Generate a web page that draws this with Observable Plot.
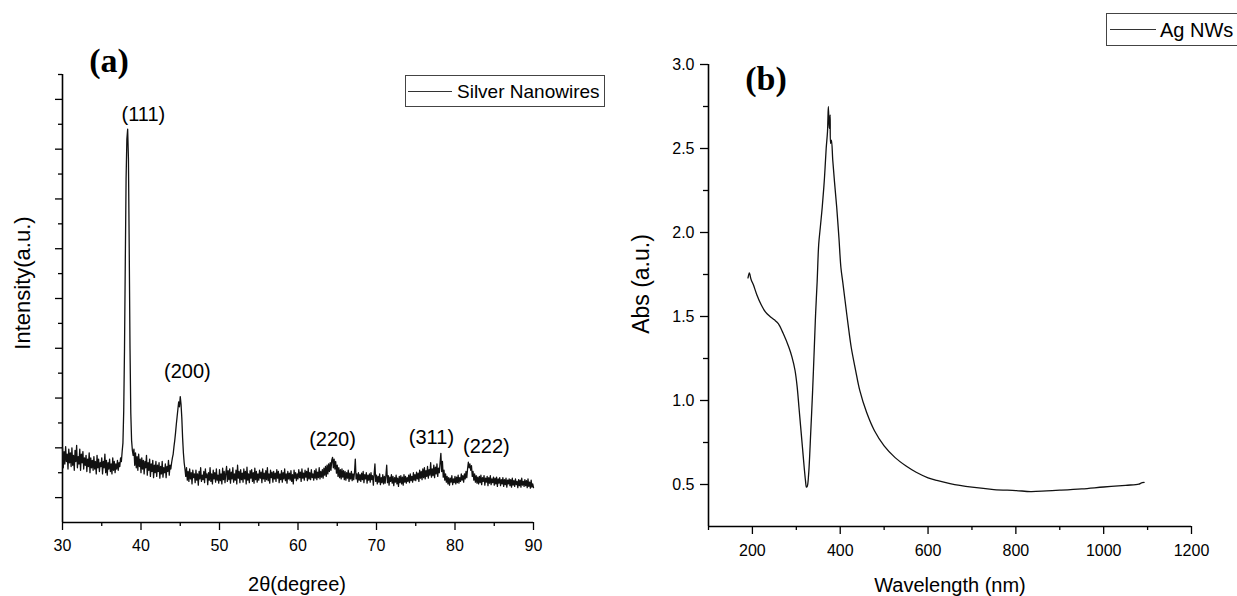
<!DOCTYPE html>
<html>
<head>
<meta charset="utf-8">
<script src="https://cdn.jsdelivr.net/npm/d3@7"></script>
<script src="https://cdn.jsdelivr.net/npm/@observablehq/plot@0.6"></script>
<style>
  html, body { margin: 0; padding: 0; background: #fff; }
  #wrap { position: relative; width: 1237px; height: 596px; overflow: hidden; background: #fff;
          font-family: "Liberation Sans", Arial, sans-serif; color: #000; }
  .abs { position: absolute; line-height: 1; white-space: nowrap; }
  .c { transform: translate(-50%, -50%); }
  .rot { transform: translate(-50%, -50%) rotate(-90deg); }
  .panel { font-family: "Liberation Serif", "Times New Roman", serif; font-weight: bold; font-size: 34px; }
  .legend { position: absolute; border: 1px solid #444; background: #fff; box-sizing: border-box; }
  .legend .ln { position: absolute; height: 0; border-top: 1.3px solid #333; }
  .legend .tx { position: absolute; line-height: 1; white-space: nowrap; }
</style>
</head>
<body>
<div id="wrap">
  <div id="pa" class="abs" style="left:0;top:0"></div>
  <div id="pb" class="abs" style="left:610px;top:0"></div>

  <div class="abs c panel" style="left:109px;top:61px">(a)</div>
  <div class="abs c panel" style="left:766px;top:79px">(b)</div>

  <div class="abs rot" style="left:23px;top:283px;font-size:22px">Intensity(a.u.)</div>
  <div class="abs c" style="left:297px;top:584px;font-size:20px">2θ(degree)</div>

  <div class="abs rot" style="left:641px;top:284px;font-size:23px">Abs (a.u.)</div>
  <div class="abs c" style="left:950px;top:585px;font-size:20px">Wavelength (nm)</div>

  <div class="legend" style="left:405px;top:75px;width:200px;height:32px">
    <div class="ln" style="left:2px;top:15px;width:44px"></div>
    <div class="tx" style="left:51px;top:6px;font-size:19px">Silver Nanowires</div>
  </div>
  <div class="legend" style="left:1106px;top:13px;width:140px;height:33px">
    <div class="ln" style="left:3px;top:15px;width:46px"></div>
    <div class="tx" style="left:53px;top:6px;font-size:20px">Ag NWs</div>
  </div>
</div>
<script>
// ---------- Panel (a): XRD pattern, sampled every 0.1 degree from 30 to 90 ----------
const thetaStart = 30;
const thetaStep = 0.1;
const xrdIntensity = [
  3.00, 2.20, 2.85, 2.35, 3.05, 2.45, 2.75, 2.15, 2.95, 2.40,
  2.80, 2.25, 3.00, 2.30, 2.70, 2.10, 2.90, 2.45, 3.10, 2.20,
  2.65, 2.35, 2.95, 2.10, 2.75, 2.40, 2.85, 2.15, 2.60, 2.30,
  2.70, 2.05, 2.55, 2.25, 2.80, 2.00, 2.60, 2.20, 2.50, 2.10,
  2.65, 2.15, 2.45, 1.95, 2.70, 2.20, 2.55, 2.05, 2.40, 2.25,
  2.60, 1.95, 2.45, 2.20, 2.75, 2.00, 2.50, 1.90, 2.40, 2.15,
  2.55, 2.05, 2.35, 1.95, 2.60, 2.10, 2.45, 2.00, 2.35, 2.15,
  2.50, 2.10, 2.40, 2.25, 2.60, 2.45, 2.85, 3.20, 4.50, 7.00,
  10.5, 13.8, 15.4, 15.8, 14.6, 11.0, 7.0, 4.4, 3.3, 2.9,
  2.70, 2.95, 2.30, 2.80, 2.20, 2.65, 2.10, 2.75, 2.25, 2.55,
  2.00, 2.60, 2.15, 2.50, 1.95, 2.45, 2.20, 2.70, 1.90, 2.40,
  2.10, 2.55, 1.85, 2.35, 2.05, 2.50, 1.80, 2.30, 2.00, 2.45,
  1.85, 2.30, 2.05, 2.40, 1.78, 2.25, 1.95, 2.45, 1.82, 2.20,
  2.00, 2.35, 1.80, 2.25, 2.05, 2.50, 1.90, 2.30, 2.15, 2.40,
  2.60, 2.75, 3.05, 3.30, 3.60, 3.95, 4.25, 4.55, 4.85, 4.65,
  5.06, 4.75, 4.20, 3.40, 2.80, 2.40, 2.15, 1.85, 2.20, 1.70,
  2.05, 1.65, 2.15, 1.75, 2.00, 1.55, 2.10, 1.80, 1.95, 1.60,
  2.10, 1.70, 1.95, 1.50, 2.05, 1.75, 2.20, 1.65, 1.90, 1.72,
  2.05, 1.60, 2.15, 1.80, 1.95, 1.52, 2.00, 1.70, 2.20, 1.65,
  1.95, 1.55, 2.10, 1.75, 2.00, 1.62, 2.15, 1.70, 1.90, 1.58,
  2.12, 1.68, 1.95, 1.55, 2.18, 1.72, 2.05, 1.60, 1.98, 2.25,
  1.65, 2.08, 1.72, 2.15, 1.58, 2.02, 1.75, 2.20, 1.62, 1.95,
  1.70, 2.10, 1.55, 2.30, 1.78, 2.05, 1.60, 2.12, 1.72, 1.98,
  1.62, 2.15, 1.75, 2.05, 1.55, 2.22, 1.70, 1.95, 1.60, 2.08,
  1.78, 2.12, 1.65, 2.00, 1.58, 2.18, 1.72, 2.05, 1.62, 1.95,
  1.70, 2.10, 1.78, 2.02, 1.60, 2.15, 1.75, 1.98, 1.65, 2.08,
  1.72, 2.20, 1.68, 1.95, 1.58, 2.10, 1.80, 2.02, 1.62, 2.05,
  1.75, 1.98, 1.65, 2.12, 1.78, 2.05, 1.60, 1.95, 1.72, 2.08,
  1.62, 2.00, 1.75, 2.15, 1.68, 1.95, 1.58, 2.05, 1.75, 1.98,
  1.70, 2.08, 1.65, 1.92, 1.55, 2.10, 1.78, 2.00, 1.68, 1.95,
  1.75, 2.12, 1.80, 2.02, 1.65, 2.15, 1.78, 1.98, 1.70, 2.10,
  1.82, 2.05, 1.68, 2.18, 1.75, 2.00, 1.72, 2.12, 1.80, 1.95,
  1.70, 2.08, 1.78, 2.15, 1.72, 2.02, 1.80, 2.20, 1.75, 2.05,
  1.82, 2.12, 1.78, 2.18, 1.90, 2.25, 1.85, 2.30, 1.95, 2.35,
  2.05, 2.40, 2.10, 2.50, 2.62, 2.20, 2.55, 2.15, 2.45, 1.98,
  2.30, 1.85, 2.20, 1.80, 2.12, 1.75, 2.15, 1.82, 2.08, 1.72,
  2.05, 1.70, 2.00, 1.78, 2.10, 1.65, 1.98, 1.75, 2.05, 1.68,
  1.95, 1.72, 2.02, 2.55, 1.75, 1.95, 1.62, 2.00, 1.70, 1.92,
  1.65, 1.98, 1.72, 2.05, 1.60, 1.92, 1.75, 2.00, 1.58, 1.90,
  1.70, 1.95, 1.62, 2.00, 1.72, 1.88, 1.50, 1.95, 2.35, 1.65,
  1.90, 1.55, 1.85, 1.62, 1.95, 1.52, 1.80, 1.60, 1.92, 1.55,
  1.85, 1.58, 1.90, 2.30, 1.60, 1.88, 1.50, 1.82, 1.65, 1.92,
  1.58, 1.85, 1.48, 1.80, 1.62, 1.90, 1.55, 1.78, 1.45, 1.85,
  1.60, 1.88, 1.55, 1.82, 1.50, 1.92, 1.62, 1.85, 1.58, 1.80,
  1.65, 1.90, 1.60, 1.95, 1.68, 1.85, 1.62, 2.00, 1.70, 1.92,
  1.68, 2.02, 1.75, 1.98, 1.65, 2.10, 1.78, 2.05, 1.72, 2.15,
  1.80, 2.20, 1.75, 2.08, 1.85, 2.25, 1.78, 2.12, 1.90, 2.40,
  1.82, 2.15, 1.88, 2.30, 1.80, 2.22, 1.95, 2.35, 1.85, 2.18,
  2.00, 2.40, 2.78, 2.05, 2.45, 1.82, 2.10, 1.70, 1.95, 1.62,
  1.85, 1.55, 1.80, 1.50, 1.78, 1.62, 1.88, 1.52, 1.75, 1.60,
  1.85, 1.55, 1.82, 1.60, 1.90, 1.58, 1.80, 1.65, 1.95, 1.70,
  1.88, 1.62, 1.95, 1.75, 2.05, 1.80, 2.15, 2.42, 2.20, 2.35,
  2.10, 2.28, 1.85, 2.05, 1.70, 1.95, 1.62, 1.88, 1.58, 1.82,
  1.55, 1.85, 1.60, 1.90, 1.52, 1.80, 1.65, 1.88, 1.50, 1.78,
  1.62, 1.85, 1.48, 1.80, 1.58, 1.88, 1.52, 1.75, 1.60, 1.82,
  1.50, 1.78, 1.55, 1.82, 1.45, 1.75, 1.58, 1.80, 1.48, 1.72,
  1.55, 1.80, 1.45, 1.72, 1.52, 1.78, 1.42, 1.70, 1.55, 1.75,
  1.48, 1.72, 1.42, 1.78, 1.50, 1.68, 1.45, 1.75, 1.52, 1.65,
  1.40, 1.72, 1.48, 1.70, 1.42, 1.78, 1.50, 1.65, 1.45, 1.72,
  1.48, 1.68, 1.40, 1.75, 1.45, 1.62, 1.38, 1.70, 1.42, 1.55,
  1.40
];
const peakLabels = ["(111)", "(200)", "(220)", "(311)", "(222)"];
const peakLabelTheta = [40.3, 45.9, 64.4, 77.0, 84.0];
const peakLabelLevel = [16.4, 6.06, 3.33, 3.41, 3.05];
const xMajorA = [30, 40, 50, 60, 70, 80, 90];
const xMinorA = [35, 45, 55, 65, 75, 85];
const yMajorA = [1, 3, 5, 7, 9, 11, 13, 15, 17];
const yMinorA = [2, 4, 6, 8, 10, 12, 14, 16, 18];

// ---------- Panel (b): UV-Vis absorbance ----------
const uvWavelength = [190, 193, 197, 202, 210, 220, 230, 240, 250, 259, 270, 283, 290, 297, 302, 306, 310, 314, 318, 321, 323, 325, 328, 333, 337, 341, 344, 347.5, 351, 355, 359, 364, 368, 371, 373, 375, 377, 378, 380, 383, 387, 392, 397, 401.6, 406, 411, 418, 425, 435, 444.5, 460, 478, 500, 525, 550, 573, 600, 620, 650, 700, 750, 800, 834, 870, 900, 950, 1000, 1050, 1080, 1085, 1092];
const uvAbs = [1.73, 1.76, 1.72, 1.69, 1.63, 1.57, 1.526, 1.50, 1.48, 1.458, 1.40, 1.317, 1.26, 1.18, 1.08, 0.96, 0.84, 0.72, 0.60, 0.52, 0.484, 0.49, 0.56, 0.82, 1.05, 1.317, 1.52, 1.71, 1.93, 2.04, 2.15, 2.32, 2.50, 2.60, 2.75, 2.62, 2.70, 2.53, 2.55, 2.43, 2.30, 2.15, 1.97, 1.79, 1.70, 1.595, 1.45, 1.317, 1.18, 1.06, 0.93, 0.82, 0.73, 0.66, 0.61, 0.573, 0.54, 0.524, 0.505, 0.484, 0.47, 0.464, 0.458, 0.462, 0.466, 0.474, 0.485, 0.495, 0.502, 0.508, 0.512];
const xMajorB = [200, 400, 600, 800, 1000, 1200];
const xMinorB = [100, 300, 500, 700, 900, 1100];
const yMajorB = [0.5, 1.0, 1.5, 2.0, 2.5, 3.0];
const yMinorB = [0.75, 1.25, 1.75, 2.25, 2.75];

const xrd = xrdIntensity.map((v, i) => ({theta: +(thetaStart + i * thetaStep).toFixed(1), intensity: v}));
const peaks = peakLabels.map((t, i) => ({label: t, theta: peakLabelTheta[i], level: peakLabelLevel[i]}));
const uv = uvWavelength.map((w, i) => ({wl: w, abs: uvAbs[i]}));

const baseStyle = {fontFamily: '"Liberation Sans", Arial, sans-serif', fontSize: "16px", color: "#000", background: "transparent", overflow: "visible"};

const plotA = Plot.plot({
  width: 620, height: 596,
  marginLeft: 62, marginRight: 87, marginTop: 74, marginBottom: 74,
  style: baseStyle,
  x: {domain: [30, 90]},
  y: {domain: [0, 18]},
  marks: [
    Plot.axisX({ticks: xMajorA, tickSize: 8, tickPadding: 9, tickFormat: d => String(d), label: null, strokeWidth: 1.3, fontSize: 16}),
    Plot.axisX({ticks: xMinorA, tickSize: 4, tickFormat: () => "", label: null, strokeWidth: 1.3}),
    Plot.axisY({ticks: yMajorA, tickSize: 7, tickFormat: () => "", label: null, strokeWidth: 1.3}),
    Plot.axisY({ticks: yMinorA, tickSize: 4, tickFormat: () => "", label: null, strokeWidth: 1.3}),
    Plot.ruleY([0], {stroke: "#000", strokeWidth: 1.6}),
    Plot.ruleX([30], {stroke: "#000", strokeWidth: 1.6}),
    Plot.line(xrd, {x: "theta", y: "intensity", stroke: "#111", strokeWidth: 1.3}),
    Plot.text(peaks, {x: "theta", y: "level", text: "label", fontSize: 20, fill: "#000"})
  ]
});
document.getElementById("pa").appendChild(plotA);

const plotB = Plot.plot({
  width: 627, height: 596,
  marginLeft: 98, marginRight: 46, marginTop: 64, marginBottom: 70,
  style: baseStyle,
  x: {domain: [100, 1200]},
  y: {domain: [0.25, 3.0]},
  marks: [
    Plot.axisX({ticks: xMajorB, tickSize: 8, tickPadding: 10, tickFormat: d => String(d), label: null, strokeWidth: 1.3, fontSize: 16}),
    Plot.axisX({ticks: xMinorB, tickSize: 4, tickFormat: () => "", label: null, strokeWidth: 1.3}),
    Plot.axisY({ticks: yMajorB, tickSize: 8, tickPadding: 6, tickFormat: d3.format(".1f"), label: null, strokeWidth: 1.3, fontSize: 16}),
    Plot.axisY({ticks: yMinorB, tickSize: 5, tickFormat: () => "", label: null, strokeWidth: 1.3}),
    Plot.ruleY([0.25], {stroke: "#000", strokeWidth: 1.6}),
    Plot.ruleX([100], {stroke: "#000", strokeWidth: 1.6}),
    Plot.line(uv, {x: "wl", y: "abs", stroke: "#111", strokeWidth: 1.3, curve: "catmull-rom"})
  ]
});
document.getElementById("pb").appendChild(plotB);
</script>
</body>
</html>
